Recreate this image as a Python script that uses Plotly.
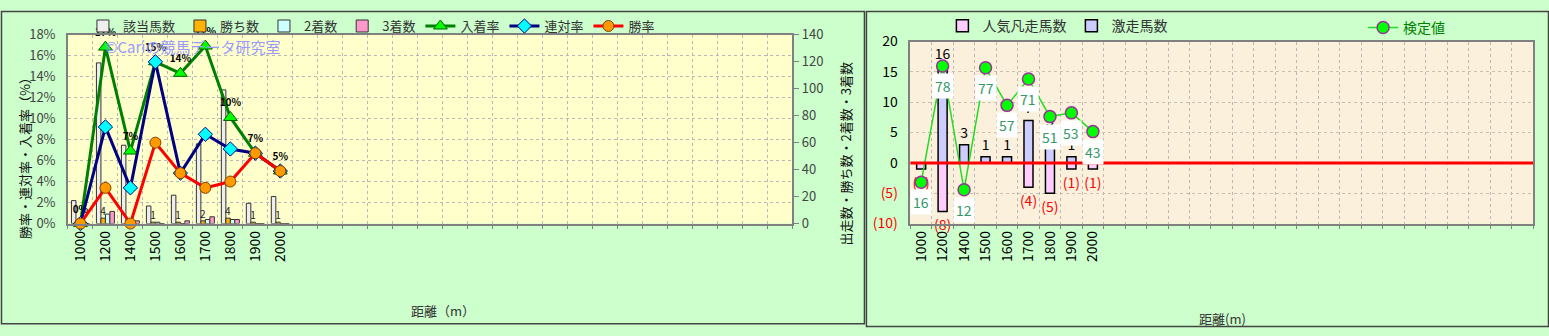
import plotly.graph_objects as go

W, H = 1549, 336

# ---------------- data ----------------
distances = ["1000", "1200", "1400", "1500", "1600", "1700", "1800", "1900", "2000"]
horses = [17, 119, 58, 13, 21, 59, 99, 15, 20]          # 該当馬数
wins = [0, 4, 0, 1, 1, 2, 4, 1, 1]                      # 勝ち数
seconds = [0, 7, 2, 1, 0, 3, 3, 0, 0]                   # 2着数
thirds = [0, 9, 2, 0, 2, 5, 3, 0, 0]                    # 3着数
place_rate = [0.0, 16.8, 6.9, 15.4, 14.3, 16.9, 10.1, 6.7, 5.0]   # 入着率
rentai_rate = [0.0, 9.2, 3.4, 15.4, 4.8, 8.5, 7.1, 6.7, 5.0]     # 連対率
win_rate = [0.0, 3.4, 0.0, 7.7, 4.8, 3.4, 4.0, 6.7, 5.0]         # 勝率

gekisou = [0, 16, 3, 1, 1, 7, 5, 1, 0]          # 激走馬数
bonsou = [-1, -8, 0, 0, 0, -4, -5, -1, -1]      # 人気凡走馬数
kentei = [16, 78, 12, 77, 57, 71, 51, 53, 43]   # 検定値

pct_ticks = [0, 2, 4, 6, 8, 10, 12, 14, 16, 18]
pct_labels = [f"{v}%" for v in pct_ticks]
cnt_ticks = [0, 20, 40, 60, 80, 100, 120, 140]
r_ticks = [-10, -5, 0, 5, 10, 15, 20]

N_SLOTS = 29
xs = list(range(len(distances)))

FONT = "Noto Sans CJK JP"


def px(x):
    return x / W


def py(y):
    return 1 - y / H


fig = go.Figure()

# ---------------- left panel bars ----------------
bar_line = dict(color="#333333", width=1)
fig.add_trace(go.Bar(x=xs, y=horses, name="該当馬数", xaxis="x", yaxis="y",
                     marker=dict(color="#EEEEEE", line=bar_line), legend="legend"))
fig.add_trace(go.Bar(x=xs, y=wins, name="勝ち数", xaxis="x", yaxis="y",
                     marker=dict(color="#FFB300", line=bar_line), legend="legend",
                     text=[str(v) if v else "" for v in wins], textposition="outside",
                     constraintext="none", cliponaxis=False,
                     textfont=dict(size=10, color="#222222")))
fig.add_trace(go.Bar(x=xs, y=seconds, name="2着数", xaxis="x", yaxis="y",
                     marker=dict(color="#CCFFFF", line=bar_line), legend="legend"))
fig.add_trace(go.Bar(x=xs, y=thirds, name="3着数", xaxis="x", yaxis="y",
                     marker=dict(color="#FF99CC", line=bar_line), legend="legend"))

# ---------------- left panel lines ----------------
fig.add_trace(go.Scatter(x=xs, y=place_rate, name="入着率", xaxis="x", yaxis="y2",
                         mode="lines+markers+text",
                         texttemplate="<b>%{y:.0f}%</b>", textposition="top center",
                         textfont=dict(size=10, color="#000000"), cliponaxis=False,
                         line=dict(color="#008000", width=3),
                         marker=dict(symbol="triangle-up", size=12, color="#00FF00",
                                     line=dict(color="#006600", width=1)),
                         legend="legend"))
fig.add_trace(go.Scatter(x=xs, y=rentai_rate, name="連対率", xaxis="x", yaxis="y2",
                         mode="lines+markers", cliponaxis=False,
                         line=dict(color="#000080", width=3),
                         marker=dict(symbol="diamond", size=11, color="#00FFFF",
                                     line=dict(color="#000080", width=1)),
                         legend="legend"))
fig.add_trace(go.Scatter(x=xs, y=win_rate, name="勝率", xaxis="x", yaxis="y2",
                         mode="lines+markers", cliponaxis=False,
                         line=dict(color="#FF0000", width=3),
                         marker=dict(symbol="circle", size=11, color="#FF9900",
                                     line=dict(color="#804000", width=1)),
                         legend="legend"))

# ---------------- right panel ----------------
rb_line = dict(color="#000000", width=1.5)
fig.add_trace(go.Bar(x=xs, y=bonsou, name="人気凡走馬数", xaxis="x2", yaxis="y3",
                     offsetgroup="r", width=0.42,
                     marker=dict(color="#FFCCFF", line=rb_line),
                     text=[f"({-v})" if v else "" for v in bonsou], textposition="outside",
                     constraintext="none", cliponaxis=False,
                     textfont=dict(size=14, color="#FF0000"), legend="legend2"))
fig.add_trace(go.Bar(x=xs, y=gekisou, name="激走馬数", xaxis="x2", yaxis="y3",
                     offsetgroup="r", width=0.42,
                     marker=dict(color="#CCCCFF", line=rb_line),
                     text=[str(v) if v else "" for v in gekisou], textposition="outside",
                     constraintext="none", cliponaxis=False,
                     textfont=dict(size=14, color="#000000"), legend="legend2"))
fig.add_trace(go.Scatter(x=xs, y=kentei, name="検定値", xaxis="x2", yaxis="y4",
                         mode="lines+markers", cliponaxis=False,
                         line=dict(color="#22DD22", width=1.5),
                         marker=dict(size=12, color="#00FF00",
                                     line=dict(color="#993399", width=1.5)),
                         legend="legend3"))

annotations = []
for xi, v in zip(xs, kentei):
    annotations.append(dict(x=xi, y=v, xref="x2", yref="y4", text=str(v),
                            showarrow=False, yshift=-20, bgcolor="#FFFFFF",
                            borderpad=2, font=dict(size=14, color="#339966")))

# titles / texts
annotations += [
    dict(x=px(24), y=py(153), xref="paper", yref="paper", text="勝率・連対率・入着率（%）",
         textangle=-90, showarrow=False, xanchor="center", yanchor="middle",
         font=dict(size=13, color="#111111")),
    dict(x=px(845), y=py(152), xref="paper", yref="paper", text="出走数・勝ち数・2着数・3着数",
         textangle=-90, showarrow=False, xanchor="center", yanchor="middle",
         font=dict(size=13, color="#111111")),
    dict(x=px(442), y=py(318), xref="paper", yref="paper", text="距離（m）",
         showarrow=False, xanchor="center", yanchor="middle",
         font=dict(size=13, color="#333333")),
    dict(x=px(1222), y=py(327), xref="paper", yref="paper", text="距離(m)",
         showarrow=False, xanchor="center", yanchor="middle",
         font=dict(size=13, color="#333333")),
    dict(x=px(192), y=py(38), xref="paper", yref="paper", text="©Cariの競馬データ研究室",
         showarrow=False, xanchor="center", yanchor="middle",
         font=dict(size=15, color="#9999FF")),
]

r_ticktext = [f'<span style="color:#FF0000">({-v})</span>' if v < 0 else str(v) for v in r_ticks]

grid_col = "#B8B8B8"
x_common = dict(range=[-0.5, N_SLOTS - 0.5], tickmode="array", tickvals=xs,
                ticktext=distances, tickangle=-90, showgrid=False, zeroline=False,
                ticks="", showline=True, linecolor="#808080", linewidth=1.5, mirror=True,
                tickfont=dict(size=14, color="#000000"),
                minor=dict(tick0=0.5, dtick=1, showgrid=True, gridcolor=grid_col,
                           griddash="dot", gridwidth=1, ticks="outside", ticklen=4,
                           tickcolor="#808080"))

fig.update_layout(
    width=W, height=H, margin=dict(l=0, r=0, t=0, b=0),
    paper_bgcolor="#CCFFCC", plot_bgcolor="#FFFFCC",
    font=dict(family=FONT, size=13, color="#333333"),
    barmode="group", bargap=0.28, bargroupgap=0,
    xaxis=dict(domain=[px(67), px(792)], anchor="y", **x_common),
    yaxis=dict(domain=[py(226), py(25)], anchor="x", side="right", range=[0, 140],
               tickmode="array", tickvals=cnt_ticks, showgrid=False, zeroline=False,
               showline=True, linecolor="#808080", linewidth=1.5, ticks="outside",
               ticklen=5, tickcolor="#808080", tickfont=dict(size=13, color="#444444")),
    yaxis2=dict(overlaying="y", anchor="x", side="left", range=[0, 18],
                tickmode="array", tickvals=pct_ticks, ticktext=pct_labels,
                showgrid=True, gridcolor=grid_col,
                griddash="dot", zeroline=False, showline=True, linecolor="#808080",
                linewidth=1.5, ticks="", ticklabelstandoff=8,
                tickfont=dict(size=13, color="#444444")),
    xaxis2=dict(domain=[px(910), px(1533)], anchor="y3", **x_common),
    yaxis3=dict(domain=[py(226), py(32.5)], anchor="x2", range=[-10, 20],
                tickmode="array", tickvals=r_ticks, ticktext=r_ticktext,
                showgrid=True, gridcolor="#C8C0B0", griddash="dot", zeroline=False,
                showline=True, linecolor="#808080", linewidth=1.5, mirror=True,
                ticks="", ticklabelstandoff=8, tickfont=dict(size=14, color="#000000")),
    yaxis4=dict(overlaying="y3", anchor="x2", range=[-6, 91], visible=False),
    legend=dict(orientation="h", x=px(82), y=py(16), xanchor="left", yanchor="middle",
                bgcolor="rgba(0,0,0,0)", font=dict(size=13, color="#333333")),
    legend2=dict(orientation="h", x=px(942), y=py(16), xanchor="left", yanchor="middle",
                 bgcolor="rgba(0,0,0,0)", font=dict(size=14, color="#333333")),
    legend3=dict(orientation="h", x=px(1363), y=py(18), xanchor="left", yanchor="middle",
                 bgcolor="rgba(0,0,0,0)", font=dict(size=14, color="#008000")),
    annotations=annotations,
    showlegend=True,
)

shapes = [
    dict(type="rect", xref="x2 domain", yref="y3 domain", x0=0, x1=1, y0=0, y1=1,
         fillcolor="#FAF0DC", line=dict(width=0), layer="below"),
    dict(type="line", xref="x2 domain", yref="y3", x0=0, x1=1, y0=0, y1=0,
         line=dict(color="#FF0000", width=3), layer="above"),
    dict(type="rect", xref="paper", yref="paper", x0=px(0.5), x1=px(864), y0=py(332.5),
         y1=py(0.5), line=dict(color="#444444", width=1.5), fillcolor="rgba(0,0,0,0)"),
    dict(type="rect", xref="paper", yref="paper", x0=px(866), x1=px(1548.5), y0=py(335.5),
         y1=py(0.5), line=dict(color="#444444", width=1.5), fillcolor="rgba(0,0,0,0)"),
]
fig.update_layout(shapes=shapes)

fig.write_html("out.html")
